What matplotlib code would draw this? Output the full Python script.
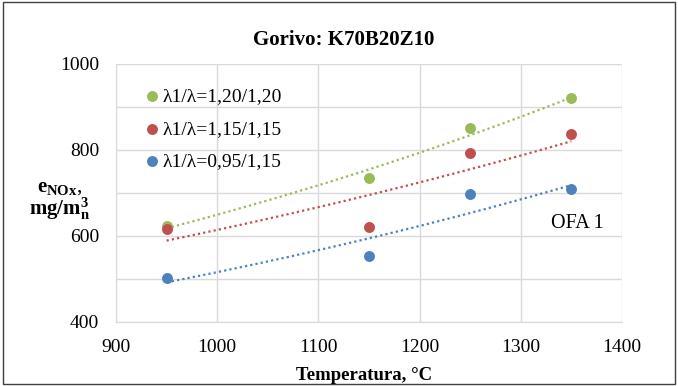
import matplotlib.pyplot as plt
import numpy as np
from matplotlib.patches import Rectangle

temps = [950, 1150, 1250, 1350]
nox_120 = [623, 735, 851, 921]
nox_115 = [616, 621, 793, 837]
nox_095 = [502, 553, 698, 709]

labels = ['λ1/λ=1,20/1,20', 'λ1/λ=1,15/1,15', 'λ1/λ=0,95/1,15']
colors = ['#9BBB59', '#C0504D', '#4F81BD']


def main():
    plt.rcParams['font.family'] = ['Liberation Serif', 'DejaVu Serif']
    plt.rcParams['mathtext.fontset'] = 'custom'
    plt.rcParams['mathtext.rm'] = 'Liberation Serif'
    plt.rcParams['mathtext.bf'] = 'Liberation Serif:bold'

    fig = plt.figure(figsize=(6.78, 3.86), dpi=100)
    ax = fig.add_axes([116 / 678, 1 - 322 / 386, 506 / 678, 258 / 386])

    fig.patches.append(Rectangle((0.004, 0.004), 0.992, 0.992, transform=fig.transFigure,
                                 fill=False, edgecolor='#404040', linewidth=1.0))

    xs = np.array(temps, dtype=float)
    for ys, lab, col in zip([nox_120, nox_115, nox_095], labels, colors):
        ax.scatter(xs, ys, s=62, color=col, label=lab, zorder=3, linewidths=0)
        # exponential trendline like excel
        b, a = np.polyfit(xs, np.log(ys), 1)
        xx = np.linspace(xs.min(), xs.max(), 100)
        ax.plot(xx, np.exp(a + b * xx), linestyle=(0, (1, 1.4)), color=col, linewidth=1.6, zorder=2)

    ax.set_xlim(900, 1400)
    ax.set_ylim(400, 1000)
    ax.set_xticks(range(900, 1401, 100))
    ax.set_yticks(range(400, 1001, 200))
    ax.set_yticks(range(500, 1000, 200), minor=True)
    ax.grid(True, which='both', color='#D9D9D9', linewidth=1.0)
    ax.set_axisbelow(True)
    for side in ['top', 'right']:
        ax.spines[side].set_visible(False)
    for side in ['left', 'bottom']:
        ax.spines[side].set_color('#D9D9D9')
    ax.tick_params(which='both', length=0, labelsize=14)
    ax.tick_params(axis='y', pad=12)
    ax.tick_params(axis='x', pad=12)

    fig.text(344 / 678, 1 - 40 / 386, 'Gorivo: K70B20Z10', fontsize=15, fontweight='bold',
             ha='center', va='center')
    fig.text(364 / 678, 1 - 375 / 386, 'Temperatura, °C', fontsize=13.5, fontweight='bold',
             ha='center', va='center')
    fig.text(60 / 678, 1 - 200 / 386,
             r'$\mathbf{e_{NOx}},$' + '\n' + r'$\mathbf{mg/m_n^3}$',
             ha='center', va='center', fontsize=15, linespacing=0.95)

    ax.text(1356, 630, 'OFA 1', fontsize=14.5, ha='center', va='center')

    ax.legend(loc='upper left', bbox_to_anchor=(0.042, 0.94), frameon=False, fontsize=14,
              handletextpad=0.2, handlelength=0.7, labelspacing=0.78, borderaxespad=0.0,
              borderpad=0.4)

    plt.savefig('out.png', dpi=100)


if __name__ == "__main__":
    main()
